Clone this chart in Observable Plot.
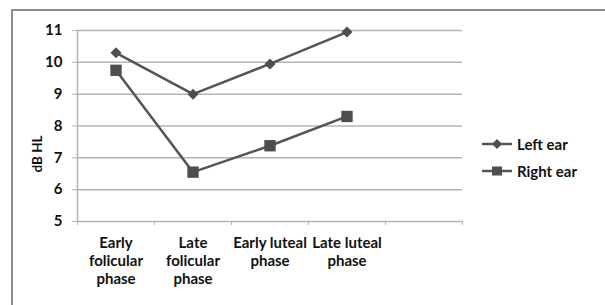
<!DOCTYPE html>
<html>
<head>
<meta charset="utf-8">
<script src="https://cdn.jsdelivr.net/npm/d3@7"></script>
<script src="https://cdn.jsdelivr.net/npm/@observablehq/plot@0.6"></script>
<style>
  html, body { margin: 0; padding: 0; background: #fff; overflow: hidden; width: 605px; height: 305px; }
  #wrap { position: relative; width: 605px; height: 305px; font-family: Lato, "Open Sans", sans-serif; font-weight: bold; color: #111; }
  #frame { position: absolute; left: 11px; top: 9px; width: 800px; height: 500px; border-left: 2px solid #8c8c8c; border-top: 2px solid #8c8c8c; box-sizing: border-box; }
  #chart { position: absolute; left: 0; top: 0; }
  #ylabel { position: absolute; left: 37px; top: 154px; transform: translate(-50%, -50%) rotate(-90deg); font-size: 13.5px; white-space: nowrap; }
  #legend { position: absolute; left: 481px; top: 130px; font-size: 15px; }
  .row { display: flex; align-items: center; height: 27px; }
  .row svg { margin-right: 4px; }
</style>
</head>
<body>
<div id="wrap">
  <div id="frame"></div>
  <div id="chart"></div>
  <div id="ylabel"></div>
  <div id="legend"></div>
</div>
<script>
// ---- data ----
const categories = ["Early\nfolicular\nphase", "Late\nfolicular\nphase", "Early luteal\nphase", "Late luteal\nphase"];
const seriesNames = ["Left ear", "Right ear"];
const leftEar = [10.3, 9.0, 9.95, 10.95];
const rightEar = [9.75, 6.55, 7.38, 8.3];
const yTicks = [5, 6, 7, 8, 9, 10, 11];
const yLabel = "dB HL";
const slotCount = 5; // Excel-style category axis with one empty slot

// ---- derived tables ----
const leftData = leftEar.map((v, i) => ({x: i + 0.5, y: v}));
const rightData = rightEar.map((v, i) => ({x: i + 0.5, y: v}));
const boundaries = d3.range(0, slotCount + 1);
const centers = categories.map((c, i) => i + 0.5);

const diamond = {
  draw(context, size) {
    const r = Math.sqrt(size / Math.PI);
    context.moveTo(0, -r);
    context.lineTo(r, 0);
    context.lineTo(0, r);
    context.lineTo(-r, 0);
    context.closePath();
  }
};

const lineColor = "#545454";
const markColor = "#4e4e4e";
const gridColor = "#b4b4b4";

const chart = Plot.plot({
  width: 605,
  height: 305,
  marginLeft: 77,
  marginRight: 143,
  marginTop: 30,
  marginBottom: 84,
  x: {type: "linear", domain: [0, slotCount]},
  y: {domain: [5, 11]},
  style: {fontFamily: "Lato, 'Open Sans', sans-serif", fontWeight: "bold", fontSize: "15px", color: "#111", background: "transparent", overflow: "visible"},
  marks: [
    Plot.gridY(yTicks.filter(t => t > 5), {stroke: gridColor, strokeOpacity: 1, strokeWidth: 1.5}),
    Plot.ruleX([0], {stroke: gridColor, strokeWidth: 1.5}),
    Plot.ruleY([5], {stroke: gridColor, strokeWidth: 1.5}),
    Plot.axisY(yTicks, {tickSize: 5, tickPadding: 10, stroke: gridColor, label: null, fontSize: 15, fontWeight: "bold"}),
    Plot.axisX(boundaries, {tickSize: 4, tickFormat: () => "", stroke: gridColor, label: null}),
    Plot.axisX(centers, {tickSize: 0, tickPadding: 13, tickFormat: d => categories[Math.floor(d)], lineHeight: 1.23, label: null, fontSize: 15, fontWeight: "bold"}),
    Plot.line(leftData, {x: "x", y: "y", stroke: lineColor, strokeWidth: 2.5}),
    Plot.line(rightData, {x: "x", y: "y", stroke: lineColor, strokeWidth: 2.5}),
    Plot.dot(leftData, {x: "x", y: "y", symbol: diamond, r: 5.5, fill: markColor, stroke: "none"}),
    Plot.dot(rightData, {x: "x", y: "y", symbol: "square", r: 6.4, fill: markColor, stroke: "none"})
  ]
});
document.getElementById("chart").appendChild(chart);
document.getElementById("ylabel").textContent = yLabel;

// ---- legend ----
const legend = document.getElementById("legend");
seriesNames.forEach((name, i) => {
  const row = document.createElement("div");
  row.className = "row";
  const marker = i === 0
    ? `<path d="M16,1 L21,6 L16,11 L11,6 Z" fill="${markColor}"/>`
    : `<rect x="11" y="1.5" width="10" height="9" fill="${markColor}"/>`;
  row.innerHTML = `<svg width="32" height="12" viewBox="0 0 32 12"><line x1="1" y1="6" x2="31" y2="6" stroke="${lineColor}" stroke-width="2.5"/>${marker}</svg><span>${name}</span>`;
  legend.appendChild(row);
});
</script>
</body>
</html>
